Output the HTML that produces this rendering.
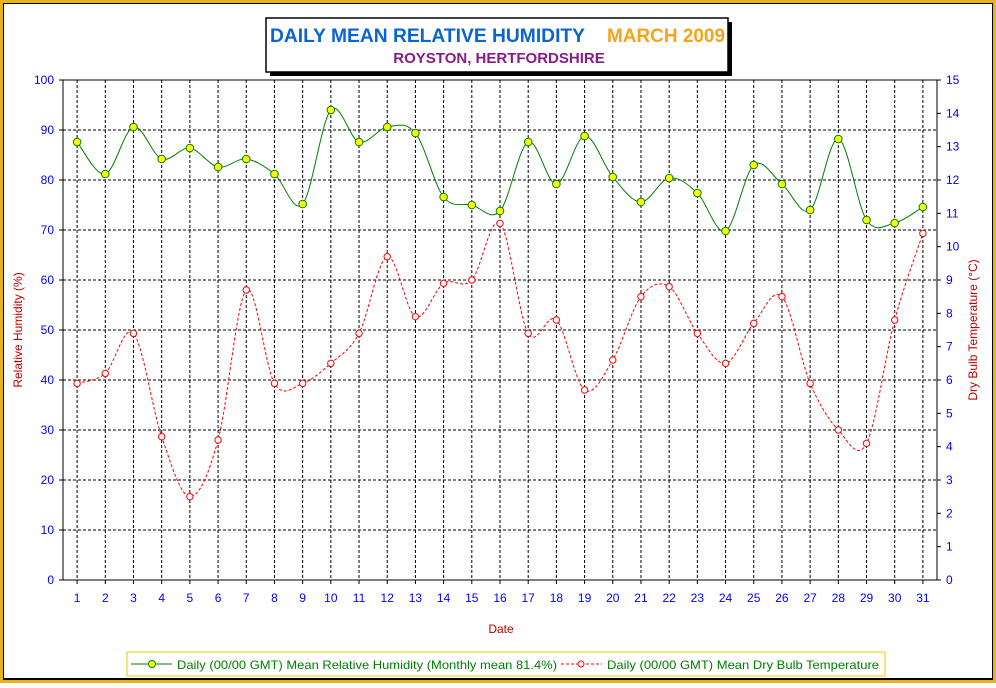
<!DOCTYPE html>
<html><head><meta charset="utf-8"><style>
body{margin:0;width:996px;height:683px;overflow:hidden;background:#fff;font-family:"Liberation Sans",sans-serif}
</style></head><body>
<svg id="c" width="996" height="683" xmlns="http://www.w3.org/2000/svg" font-family="Liberation Sans, sans-serif">
<rect x="0" y="0" width="996" height="683" fill="#e8b21e"/>
<rect x="3" y="3" width="990" height="677" fill="#000"/>
<rect x="4" y="4" width="988" height="674" fill="#fff"/>
<g id="grid"></g>
<rect x="63" y="80" width="874" height="500" fill="none" stroke="#000" stroke-width="1"/>
<g id="axes"></g>
<g id="series"></g>
<rect x="270" y="22" width="462" height="54" fill="#000"/>
<rect x="266" y="18" width="462" height="54" fill="#fff" stroke="#000" stroke-width="1.5"/>
<text x="270" y="42" font-size="19" font-weight="bold" fill="#0a64d2" textLength="315" lengthAdjust="spacingAndGlyphs">DAILY MEAN RELATIVE HUMIDITY</text>
<text x="607" y="42" font-size="19" font-weight="bold" fill="#f7a21b" textLength="118" lengthAdjust="spacingAndGlyphs">MARCH 2009</text>
<text x="499" y="63" font-size="15" font-weight="bold" fill="#8a1a8a" text-anchor="middle">ROYSTON, HERTFORDSHIRE</text>
<text x="501" y="633" font-size="12" fill="#c00000" text-anchor="middle">Date</text>
<text transform="translate(22,330) rotate(-90)" font-size="12" fill="#c00000" text-anchor="middle">Relative Humidity (%)</text>
<text transform="translate(977,330) rotate(-90)" font-size="12" fill="#c00000" text-anchor="middle">Dry Bulb Temperature (°C)</text>
<g>
<rect x="127" y="652" width="758" height="24" fill="#fff" stroke="#f5c800" stroke-width="1"/>
<line x1="131" y1="664" x2="172" y2="664" stroke="#008000"/>
<circle cx="152" cy="664" r="3.5" fill="#ffff00" stroke="#008000"/>
<text x="177" y="669" font-size="12" fill="#008000" textLength="380" lengthAdjust="spacingAndGlyphs">Daily (00/00 GMT) Mean Relative Humidity (Monthly mean 81.4%)</text>
<line x1="561" y1="664" x2="602" y2="664" stroke="#ff0000" stroke-dasharray="3,2"/>
<circle cx="581" cy="664" r="3" fill="#fff" stroke="#ff0000"/>
<text x="607" y="669" font-size="12" fill="#008000" textLength="272" lengthAdjust="spacingAndGlyphs">Daily (00/00 GMT) Mean Dry Bulb Temperature</text>
</g>
</svg>
<script>
const days=[1,2,3,4,5,6,7,8,9,10,11,12,13,14,15,16,17,18,19,20,21,22,23,24,25,26,27,28,29,30,31];
const humidity=[87.6,81.2,90.6,84.2,86.4,82.6,84.2,81.2,75.2,94,87.6,90.6,89.4,76.6,75,73.8,87.6,79.2,88.8,80.6,75.6,80.4,77.4,69.8,83,79.2,74,88.2,72,71.4,74.6];
const temperature=[5.9,6.2,7.4,4.3,2.5,4.2,8.7,5.9,5.9,6.5,7.4,9.7,7.9,8.9,9.0,10.7,7.4,7.8,5.7,6.6,8.5,8.8,7.4,6.5,7.7,8.5,5.9,4.5,4.1,7.8,10.4];
const leftTicks=[0,10,20,30,40,50,60,70,80,90,100];
const rightTicks=[0,1,2,3,4,5,6,7,8,9,10,11,12,13,14,15];
const NS="http://www.w3.org/2000/svg";
const X0=63,X1=937,Y0=580,Y1=80;
const xs=d=>X0+(d-0.5)*(X1-X0)/days.length;
const yl=v=>Y0-(v/100)*(Y0-Y1);
const yr=v=>Y0-(v/15)*(Y0-Y1);
function mk(p,t,a){const e=document.createElementNS(NS,t);for(const k in a)e.setAttribute(k,a[k]);p.appendChild(e);return e;}
const grid=document.getElementById('grid'),axes=document.getElementById('axes'),ser=document.getElementById('series');
days.forEach(d=>{const l=mk(grid,'line',{x1:xs(d),x2:xs(d),y1:Y1,y2:Y0,stroke:'#000','stroke-dasharray':'3,2'});


const t=mk(axes,'text',{x:xs(d),y:602,'font-size':12,fill:'#0000ff','text-anchor':'middle'});t.textContent=d;


mk(axes,'line',{x1:xs(d),x2:xs(d),y1:Y0,y2:Y0+4,stroke:'#000'});});
leftTicks.forEach(v=>{if(v>0&&v<100){const l=mk(grid,'line',{x1:X0,x2:X1,y1:yl(v),y2:yl(v),stroke:'#000','stroke-dasharray':'3,2'});

}
const t=mk(axes,'text',{x:54,y:yl(v)+4,'font-size':12,fill:'#0000ff','text-anchor':'end'});t.textContent=v;


mk(axes,'line',{x1:X0-4,x2:X0,y1:yl(v),y2:yl(v),stroke:'#000'});});
rightTicks.forEach(v=>{const t=mk(axes,'text',{x:946,y:yr(v)+4,'font-size':12,fill:'#0000ff'});t.textContent=v;


mk(axes,'line',{x1:X1,x2:X1+4,y1:yr(v),y2:yr(v),stroke:'#000'});});
function smooth(pts){let d='M'+pts[0][0]+','+pts[0][1];for(let i=0;i<pts.length-1;i++){const p0=pts[i-1]||pts[i],p1=pts[i],p2=pts[i+1],p3=pts[i+2]||p2;
d+=' C'+(p1[0]+(p2[0]-p0[0])/6)+','+(p1[1]+(p2[1]-p0[1])/6)+' '+(p2[0]-(p3[0]-p1[0])/6)+','+(p2[1]-(p3[1]-p1[1])/6)+' '+p2[0]+','+p2[1];}return d;}
const tp=days.map((d,i)=>[xs(d),yr(temperature[i])]);
const tl=mk(ser,'path',{d:smooth(tp),fill:'none',stroke:'#ff0000','stroke-dasharray':'3,2'});


tp.forEach(p=>{const c=mk(ser,'circle',{cx:p[0],cy:p[1],r:3.2,fill:'#fff',stroke:'#ff0000'});

});
const hp=days.map((d,i)=>[xs(d),yl(humidity[i])]);
const hl=mk(ser,'path',{d:smooth(hp),fill:'none',stroke:'#008000'});


hp.forEach(p=>{const c=mk(ser,'circle',{cx:p[0],cy:p[1],r:3.8,fill:'#ffff00',stroke:'#008000'});

});
</script>
</body></html>
